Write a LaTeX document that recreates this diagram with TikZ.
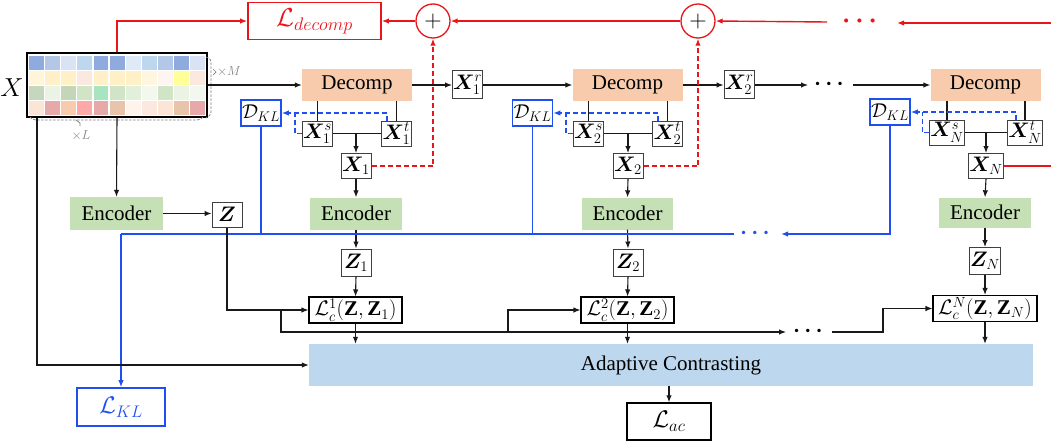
\documentclass[tikz,border=0pt]{standalone}
\usepackage{fix-cm}
\usepackage{amsmath,bm}
\usepackage{fontspec}
\setmainfont{Liberation Serif}
\usetikzlibrary{arrows.meta,calc}

\definecolor{decompfill}{HTML}{F8CBAD}
\definecolor{encfill}{HTML}{C5E0B4}
\definecolor{acfill}{HTML}{BDD7EE}
\definecolor{myblue}{HTML}{1F4FF0}
\definecolor{myred}{HTML}{E8161B}
\definecolor{boxgray}{HTML}{404040}
\definecolor{annot}{HTML}{808080}

\newcommand{\fsz}[1]{\fontsize{#1}{#1}\selectfont}

\tikzset{
  decompbox/.style={fill=decompfill, minimum width=110pt, minimum height=32pt, inner sep=0pt, font=\fsz{21}},
  encbox/.style={fill=encfill, minimum width=92pt, minimum height=32pt, inner sep=0pt, font=\fsz{21}},
  var/.style={draw=boxgray, line width=1pt, fill=white, minimum width=30pt, minimum height=26pt, inner sep=0.3pt, font=\fsz{21}},
  klbox/.style={draw=myblue, line width=1.6pt, fill=white, minimum width=40pt, minimum height=26pt, inner sep=0.3pt, font=\fsz{20}},
  lcbox/.style={draw=black, line width=1.1pt, fill=white, minimum width=93pt, minimum height=26pt, inner sep=0.5pt, font=\fsz{21}},
  plusnode/.style={circle, draw=myred, line width=1.3pt, fill=white, minimum size=34pt, inner sep=0pt, font=\fsz{24}},
  dotsnode/.style={inner sep=0pt, font=\fsz{22}},
  arr/.style={-{Latex[length=7pt,width=5.5pt]}},
  ln/.style={line width=1.1pt, black!90},
  rln/.style={line width=1.4pt, myred},
  rdash/.style={line width=1.4pt, myred, dash pattern=on 5pt off 3pt},
  bln/.style={line width=1.5pt, myblue},
  bdash/.style={line width=1.4pt, myblue, dash pattern=on 5pt off 3pt},
  graydash/.style={line width=0.8pt, annot, dash pattern=on 2.5pt off 1.5pt},
}

\begin{document}
\begin{tikzpicture}[x=1pt,y=-1pt]
\useasboundingbox (0,0) rectangle (1051,442);

% ---- input series X: 4 variables x 11 time steps ----
\foreach \row [count=\r from 0] in {
  {8FAADC,B4C7E7,DAE3F3,BDD7EE,8FAADC,8FAADC,DEEBF7,BDD7EE,B4C7E7,8FAADC,DAE3F3},
  {FFF5D8,FFF0C8,FFF0C8,FBE9DF,FFF0C8,FFF0C8,FFF0C8,FFF6E0,FEF4F0,FFFF99,FBE9DF},
  {C5D8BD,EAF3E4,C5D6B8,D1E5C6,A8E4C0,D1E5C6,E2EFDA,F3F8EF,D1E5C6,EAF3E4,F3F8EF},
  {FBE5D6,E6A8A8,F8CBAD,FFA8A8,E6A8A8,E8C4AA,FEF4EC,FBE9E0,FBE5D6,E8C4AA,E6A8A8}} {
  \foreach \c [count=\k from 0] in \row {
    \definecolor{cellc}{HTML}{\c}
    \fill[cellc] ({29.1+\k*16.1},{56.1+\r*15}) rectangle ++(14.9,13.8);
  }
}
\node[draw=black, line width=1.3pt, minimum width=180pt, minimum height=64pt, inner sep=0pt] (Xm) at (117,85) {};
\node[font=\fsz{26}, inner sep=0pt] (Xlab) at (12,88) {$X$};

% dimension braces
\draw[graydash, rounded corners=3pt] (206,57) -- (211,59) -- (211,115) -- (206,118);
\draw[annot, line width=0.7pt] (213,69) -- (216,72) -- (213,75);
\node[annot, font=\fsz{13}, inner sep=0pt] (mlab) at (229,72) {$\times M$};
\draw[graydash, rounded corners=3pt] (30,117) -- (33,120) -- (200,120) -- (203,117);
\draw[annot, line width=0.7pt] (76,120) -- (80,123) -- (80,126);
\node[annot, font=\fsz{13}, inner sep=0pt] (llab) at (81,136) {$\times L$};

% ---- decomposition loss chain ----
\node[draw=myred, line width=1.7pt, minimum width=133pt, minimum height=37pt, inner sep=0pt, text=myred, font=\fsz{26}] (Ldec) at (314.5,21) {$\mathcal{L}_{decomp}$};
\node[plusnode] (plus1) at (433,21) {$+$};
\node[plusnode] (plus2) at (698,21) {$+$};
\node[dotsnode, text=myred, font=\fsz{26}] (rdots) at (862,21) {$\bm{\cdots}$};
\coordinate (r1) at (827,22);
\coordinate (r2) at (1051,23);
\coordinate (r3) at (897,23);

\draw[rln,arr] (Xm.north) |- (Ldec.west);
\draw[rln,arr] (plus1.west) -- (Ldec.east);
\draw[rln,arr] (plus2.west) -- (plus1.east);
\draw[rln,arr] (r1) -- (plus2.east);
\draw[rln,arr] (r2) -- (r3);

% ---- decomposition stages ----
\node[decompbox] (D1) at (357,85) {Decomp};
\node[var, minimum height=28pt] (Xr1) at (467.5,84.5) {$\bm{X}_1^r$};
\node[decompbox] (D2) at (627.5,85) {Decomp};
\node[var, minimum height=28pt] (Xr2) at (739,84.5) {$\bm{X}_2^r$};
\node[dotsnode] (kdots) at (831,84) {$\bm{\cdots}$};
\node[decompbox] (DN) at (985.5,85) {Decomp};
\coordinate (t1) at (808,85);
\coordinate (t2) at (853,85);

\draw[ln,arr] (Xm.east) -- (D1.west);
\draw[ln,arr] (D1.east) -- (D1.east -| Xr1.west);
\draw[ln,arr] (Xr1.east |- D2.west) -- (D2.west);
\draw[ln,arr] (D2.east) -- (D2.east -| Xr2.west);
\draw[ln,arr] (Xr2.east |- t1) -- (t1);
\draw[ln,arr] (t2) -- (DN.west);

% seasonal / trend parts
\node[var, minimum height=25pt] (Xs1) at (317.5,133.5) {$\bm{X}_1^s$};
\node[var, minimum height=25pt] (Xt1) at (396.5,133.5) {$\bm{X}_1^t$};
\node[var, minimum height=25pt] (Xs2) at (588.5,133.5) {$\bm{X}_2^s$};
\node[var, minimum height=25pt] (Xt2) at (667.5,133.5) {$\bm{X}_2^t$};
\node[var, minimum height=25pt] (XsN) at (947,132.5) {$\bm{X}_N^s$};
\node[var, minimum height=25pt] (XtN) at (1025,132.5) {$\bm{X}_N^t$};

\node[var, minimum height=25pt] (X1) at (356,166) {$\bm{X}_1$};
\node[var, minimum height=25pt] (X2) at (628,166) {$\bm{X}_2$};
\node[var, minimum height=25pt] (XN) at (986,166) {$\bm{X}_N$};

\node[klbox] (DKL1) at (261,113) {$\mathcal{D}_{KL}$};
\node[klbox] (DKL2) at (532.5,113) {$\mathcal{D}_{KL}$};
\node[klbox] (DKLN) at (890,112) {$\mathcal{D}_{KL}$};

\foreach \d/\s/\t/\x in {D1/Xs1/Xt1/X1, D2/Xs2/Xt2/X2, DN/XsN/XtN/XN} {
  \draw[ln] (\s.north |- \d.south) -- (\s.north);
  \draw[ln] (\t.north |- \d.south) -- (\t.north);
  \draw[ln] (\s.east) -- (\t.west);
  \draw[ln,arr] (\x.north |- \s.east) -- (\x.north);
}

% KL divergence feedback
\draw[bdash,arr] ([xshift=-9.5pt]Xt1.north) |- (DKL1.east);
\draw[bdash] (Xs1.west) -- ++(-7,0) coordinate (k1) -- (k1 |- DKL1.east);
\draw[bdash,arr] ([xshift=-9.5pt]Xt2.north) |- (DKL2.east);
\draw[bdash] (Xs2.west) -- ++(-7,0) coordinate (k2) -- (k2 |- DKL2.east);
\draw[bdash,arr] ([xshift=-9pt]XtN.north) |- (DKLN.east);
\draw[bdash] (XsN.west) -- ++(-7,0) coordinate (k3) -- (k3 |- DKLN.east);

% reconstruction feedback
\draw[rdash,arr] (X1.east) -| (plus1.south);
\draw[rdash,arr] (X2.east) -| (plus2.south);
\coordinate (r4) at (1051,166);
\draw[rln] (XN.east) -- (r4);

% ---- encoders ----
\node[encbox, minimum width=93pt, minimum height=33pt] (E0) at (116.5,213.5) {Encoder};
\node[var, minimum height=25pt] (Z) at (227,214.5) {$\bm{Z}$};
\node[encbox] (E1) at (356,213.5) {Encoder};
\node[encbox, minimum width=91pt] (E2) at (627.5,213.5) {Encoder};
\node[encbox, minimum height=30pt] (EN) at (985,212.5) {Encoder};

\node[var, minimum height=27pt] (Z1) at (356,262.5) {$\bm{Z}_1$};
\node[var, minimum height=27pt] (Z2) at (628,262.5) {$\bm{Z}_2$};
\node[var, minimum height=27pt] (ZN) at (985,261) {$\bm{Z}_N$};

\draw[ln,arr] (Xm.south) -- (E0.north);
\draw[ln,arr] (E0.east) -- (E0.east -| Z.west);
\draw[ln,arr] (X1.south) -- (E1.north);
\draw[ln,arr] (X2.south) -- (E2.north);
\draw[ln,arr] (XN.south) -- (EN.north);
\draw[ln,arr] (E1.south) -- (Z1.north);
\draw[ln,arr] (E2.south) -- (Z2.north);
\draw[ln,arr] (EN.south) -- (ZN.north);

% KL collection bus
\node[klbox, minimum width=88pt, minimum height=38pt, text=myblue, font=\fsz{24}] (LKL) at (121,407) {$\mathcal{L}_{KL}$};
\coordinate (bL) at (121,234);
\coordinate (bR) at (734,234);
\coordinate (bA) at (781,234);
\node[dotsnode, text=myblue] (bdots) at (757,233) {$\bm{\cdots}$};
\draw[bln] (DKL1.south) |- (bL);
\draw[bln,arr] (bL) -- (LKL.north);
\draw[bln] (bL) -- (bR);
\draw[bln] (DKL2.south) -- (DKL2.south |- bL);
\draw[bln,arr] (DKLN.south) |- (bA);

% ---- contrastive losses ----
\node[lcbox] (Lc1) at (355.5,310) {$\mathcal{L}_c^1(\mathbf{Z},\mathbf{Z}_1)$};
\node[lcbox] (Lc2) at (627.5,310) {$\mathcal{L}_c^2(\mathbf{Z},\mathbf{Z}_2)$};
\node[lcbox, minimum width=104pt] (LcN) at (985,308.5) {$\mathcal{L}_c^N(\mathbf{Z},\mathbf{Z}_N)$};
\node[dotsnode] (cdots) at (810,331) {$\bm{\cdots}$};

\draw[ln,arr] (Z1.south) -- (Lc1.north);
\draw[ln,arr] (Z2.south) -- (Lc2.north);
\draw[ln,arr] (ZN.south) -- (LcN.north);

\coordinate (j1) at (281,310);
\coordinate (j2) at (508,332);
\coordinate (j3) at (786,332);
\coordinate (j4) at (832,332);
\coordinate (j5) at (883,332);
\draw[ln,arr] (Z.south) |- (Lc1.west);
\draw[ln] (j1) |- (j2);
\draw[ln,arr] (j2) |- (Lc2.west);
\draw[ln,arr] (j2) -- (j3);
\draw[ln,arr] (j4) -- (j5) |- (LcN.west);

% ---- adaptive contrasting ----
\node[fill=acfill, minimum width=724pt, minimum height=42pt, inner sep=0pt, font=\fsz{21}] (AC) at (671,365) {Adaptive Contrasting};
\node[draw=black, line width=1.5pt, minimum width=84pt, minimum height=37pt, inner sep=0pt, font=\fsz{24}] (Lac) at (669,421.5) {$\mathcal{L}_{ac}$};

\draw[ln,arr] (Lc1.south) -- (Lc1.south |- AC.north);
\draw[ln,arr] (Lc2.south) -- (Lc2.south |- AC.north);
\draw[ln,arr] (LcN.south) -- (LcN.south |- AC.north);
\draw[ln,arr] ([xshift=-80pt]Xm.south) |- (AC.west);
\draw[ln,arr] (AC.south -| Lac.north) -- (Lac.north);
\end{tikzpicture}
\end{document}
